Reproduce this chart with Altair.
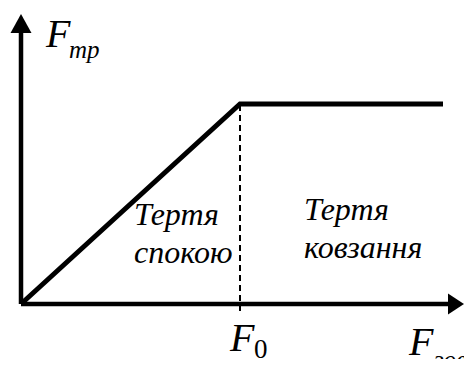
import altair as alt
import pandas as pd

# friction force vs external force (schematic units)
curve_x = [0, 219, 422]
curve_y = [0, 200, 200]
F0 = 219
axis_x_end = 437
axis_y_end = 283

# labels
lab_text = ["F", "тр", "F", "F", "зовн", "Тертя", "спокою", "Тертя", "ковзання"]
lab_x = [25, 48, 209, 388, 413, 113, 113, 283, 283]
lab_y = [257, 246, -47, -51, -64, 79, 41, 84, 46]
lab_size = [40, 25, 40, 40, 25, 32, 32, 32, 32]
sub0_text = ["0"]
sub0_x = [233]
sub0_y = [-54]
sub0_size = [27]

FONT = "Liberation Serif, Times New Roman, DejaVu Serif, serif"

X = alt.Scale(domain=[-13, 443], nice=False, zero=False)
Y = alt.Scale(domain=[-55, 296], nice=False, zero=False)

curve = pd.DataFrame({"x": curve_x, "y": curve_y})
axes = pd.DataFrame({"x": [0, 0], "y": [0, 0], "x2": [axis_x_end, 0], "y2": [0, axis_y_end]})
dash = pd.DataFrame({"x": [F0], "y": [-7], "y2": [curve_y[1]]})
arr_up = pd.DataFrame({"x": [0], "y": [280.5]})
arr_right = pd.DataFrame({"x": [435], "y": [0]})
labels = pd.DataFrame({"x": lab_x, "y": lab_y, "t": lab_text, "s": lab_size})
sub0 = pd.DataFrame({"x": sub0_x, "y": sub0_y, "t": sub0_text, "s": sub0_size})

ax_layer = alt.Chart(axes).mark_rule(color="black", strokeWidth=4.5).encode(
    x=alt.X("x:Q", scale=X, axis=None), y=alt.Y("y:Q", scale=Y, axis=None),
    x2="x2:Q", y2="y2:Q")

up = alt.Chart(arr_up).mark_point(
    shape="M0,-0.9L1,0.9L-1,0.9Z", size=441, filled=True, color="black", opacity=1
).encode(x=alt.X("x:Q", scale=X, axis=None), y=alt.Y("y:Q", scale=Y, axis=None))
right = alt.Chart(arr_right).mark_point(
    shape="M0.76,0L-0.76,-1L-0.76,1Z", size=441, filled=True, color="black", opacity=1
).encode(x=alt.X("x:Q", scale=X, axis=None), y=alt.Y("y:Q", scale=Y, axis=None))

line = alt.Chart(curve).mark_line(color="black", strokeWidth=5).encode(
    x=alt.X("x:Q", scale=X, axis=None), y=alt.Y("y:Q", scale=Y, axis=None))

dashed = alt.Chart(dash).mark_rule(color="black", strokeWidth=2, strokeDash=[6, 4]).encode(
    x=alt.X("x:Q", scale=X, axis=None), y=alt.Y("y:Q", scale=Y, axis=None), y2="y2:Q")

txt = alt.Chart(labels).mark_text(font=FONT, fontStyle="italic", align="left",
                                  baseline="alphabetic", color="black").encode(
    x=alt.X("x:Q", scale=X, axis=None), y=alt.Y("y:Q", scale=Y, axis=None),
    text="t:N", size=alt.Size("s:Q", scale=None))
txt0 = alt.Chart(sub0).mark_text(font=FONT, align="left",
                                 baseline="alphabetic", color="black").encode(
    x=alt.X("x:Q", scale=X, axis=None), y=alt.Y("y:Q", scale=Y, axis=None),
    text="t:N", size=alt.Size("s:Q", scale=None))

chart = alt.layer(dashed, ax_layer, up, right, line, txt, txt0).properties(
    width=456, height=351, padding=0, autosize=alt.AutoSizeParams(type="none")
).configure_view(stroke=None)

chart.save("out.html", embed_options={"renderer": "svg", "actions": False})
